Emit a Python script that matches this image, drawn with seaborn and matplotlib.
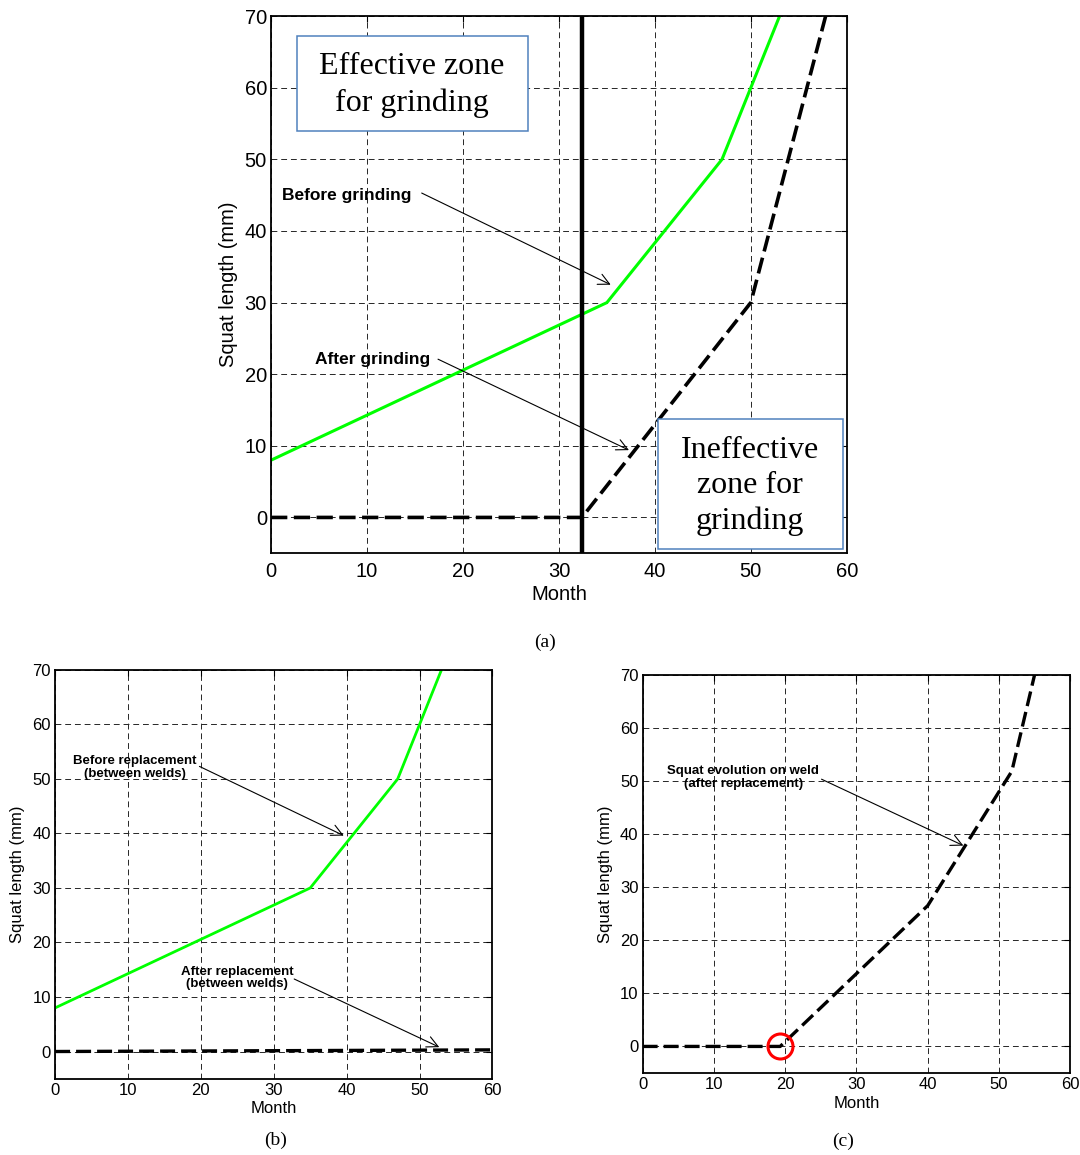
import numpy as np
import pandas as pd
import matplotlib
matplotlib.use('Agg')
import matplotlib.pyplot as plt
from matplotlib.patches import Rectangle
import seaborn as sns


sns.set_style('white')
plt.rcParams['font.family'] = ['Liberation Sans', 'DejaVu Sans']
plt.rcParams['text.color'] = 'black'
plt.rcParams['axes.labelcolor'] = 'black'
plt.rcParams['xtick.color'] = 'black'
plt.rcParams['ytick.color'] = 'black'

# Panel (a) / (b): squat growth between welds
month_before = [0, 35, 47, 53]
squat_before = [8, 30, 50, 70]

# Panel (a): after grinding
month_grind = [0, 32.4, 50, 57.8]
squat_grind = [0, 0, 30, 70]
grinding_month = 32.4

# Panel (b): after replacement (between welds)
month_repl = [0, 60]
squat_repl = [0, 0.3]

# Panel (c): squat on weld after replacement
month_weld = [0, 19.3, 40, 51.8, 55]
squat_weld = [0, 0, 26.5, 51.8, 70]
weld_start = (19.3, 0)

xticks = [0, 10, 20, 30, 40, 50, 60]
yticks = [0, 10, 20, 30, 40, 50, 60, 70]

fig = plt.figure(figsize=(10.8, 11.55), dpi=100)
ax_a = fig.add_axes([0.251, 0.521, 0.533, 0.465])
ax_b = fig.add_axes([0.051, 0.066, 0.405, 0.354])
ax_c = fig.add_axes([0.595, 0.071, 0.396, 0.345])

grid_ls = (0, (6, 4))
dash_ls = (0, (4.5, 1.8))
serif = ['Liberation Serif', 'DejaVu Serif']


def style_axes(ax, fs, xpad=3, lpad=2.5):
    ax.set_xlim(0, 60)
    ax.set_ylim(-5, 70)
    ax.set_xticks(xticks)
    ax.set_yticks(yticks)
    ax.grid(True, linestyle=grid_ls, color='0.15', lw=0.7)
    ax.set_axisbelow(True)
    ax.tick_params(direction='in', length=4, labelsize=fs, pad=3,
                   top=True, right=True)
    ax.tick_params(axis='x', pad=xpad)
    for sp in ax.spines.values():
        sp.set_color('black')
        sp.set_linewidth(1.3)
    ax.set_xlabel('Month', fontsize=fs, labelpad=lpad)
    ax.set_ylabel('Squat length (mm)', fontsize=fs, labelpad=5)


arrow_kw = dict(arrowstyle='->', color='black', lw=0.8,
                mutation_scale=20, shrinkA=0, shrinkB=0)

# ---- (a) ----
sns.lineplot(x=month_before, y=squat_before, ax=ax_a, color='#00ff00',
             lw=2.2, estimator=None, sort=False)
sns.lineplot(x=month_grind, y=squat_grind, ax=ax_a, color='black',
             lw=2.6, linestyle=dash_ls, estimator=None, sort=False)
ax_a.axvline(grinding_month, color='black', lw=3.2)
style_axes(ax_a, 14.5, xpad=6, lpad=3)

ax_a.text(1.1, 44.9, 'Before grinding', fontsize=12.5, fontweight='bold',
          va='center', ha='left')
ax_a.annotate('', xy=(35.4, 32.5), xytext=(15.7, 45.3), arrowprops=arrow_kw)
ax_a.text(4.6, 22.1, 'After grinding', fontsize=12.5, fontweight='bold',
          va='center', ha='left')
ax_a.annotate('', xy=(37.3, 9.4), xytext=(17.4, 22.1), arrowprops=arrow_kw)

# zone boxes
ax_a.add_patch(Rectangle((2.66, 53.9), 24.1, 13.4, fc='white', ec='#4F81BD',
                         lw=1.1, zorder=4))
ax_a.text(14.7, 60.4, 'Effective zone\nfor grinding', fontsize=23,
          family=serif, ha='center', va='center', zorder=5, linespacing=1.3)
ax_a.add_patch(Rectangle((40.3, -4.4), 19.3, 18.1, fc='white', ec='#4F81BD',
                         lw=1.1, zorder=4))
ax_a.text(49.9, 4.4, 'Ineffective\nzone for\ngrinding', fontsize=23,
          family=serif, ha='center', va='center', zorder=5, linespacing=1.3)

# ---- (b) ----
sns.lineplot(x=month_before, y=squat_before, ax=ax_b, color='#00ff00',
             lw=2.0, estimator=None, sort=False)
sns.lineplot(x=month_repl, y=squat_repl, ax=ax_b, color='black',
             lw=2.4, linestyle=dash_ls, estimator=None, sort=False)
style_axes(ax_b, 12)
ax_b.text(10.9, 52.1, 'Before replacement\n(between welds)', fontsize=9.5,
          fontweight='bold', ha='center', va='center', linespacing=1.05)
ax_b.annotate('', xy=(39.6, 39.6), xytext=(19.8, 52.3), arrowprops=arrow_kw)
ax_b.text(25.0, 13.5, 'After replacement\n(between welds)', fontsize=9.5,
          fontweight='bold', ha='center', va='center', linespacing=1.05)
ax_b.annotate('', xy=(52.7, 0.8), xytext=(32.8, 13.3), arrowprops=arrow_kw)

# ---- (c) ----
sns.lineplot(x=month_weld, y=squat_weld, ax=ax_c, color='black',
             lw=2.4, linestyle=dash_ls, estimator=None, sort=False)
ax_c.plot(*weld_start, marker='o', ms=18, mfc='none', mec='red', mew=2.2)
style_axes(ax_c, 12)
ax_c.text(14.1, 50.6, 'Squat evolution on weld\n(after replacement)',
          fontsize=9.5, fontweight='bold', ha='center', va='center',
          linespacing=1.05)
ax_c.annotate('', xy=(45.0, 37.8), xytext=(25.1, 50.3), arrowprops=arrow_kw)

fig.text(0.505, 0.444, '(a)', fontsize=14, family=serif, ha='center', va='center')
fig.text(0.255, 0.013, '(b)', fontsize=14, family=serif, ha='center', va='center')
fig.text(0.781, 0.012, '(c)', fontsize=14, family=serif, ha='center', va='center')

fig.savefig('out.png', dpi=100)
